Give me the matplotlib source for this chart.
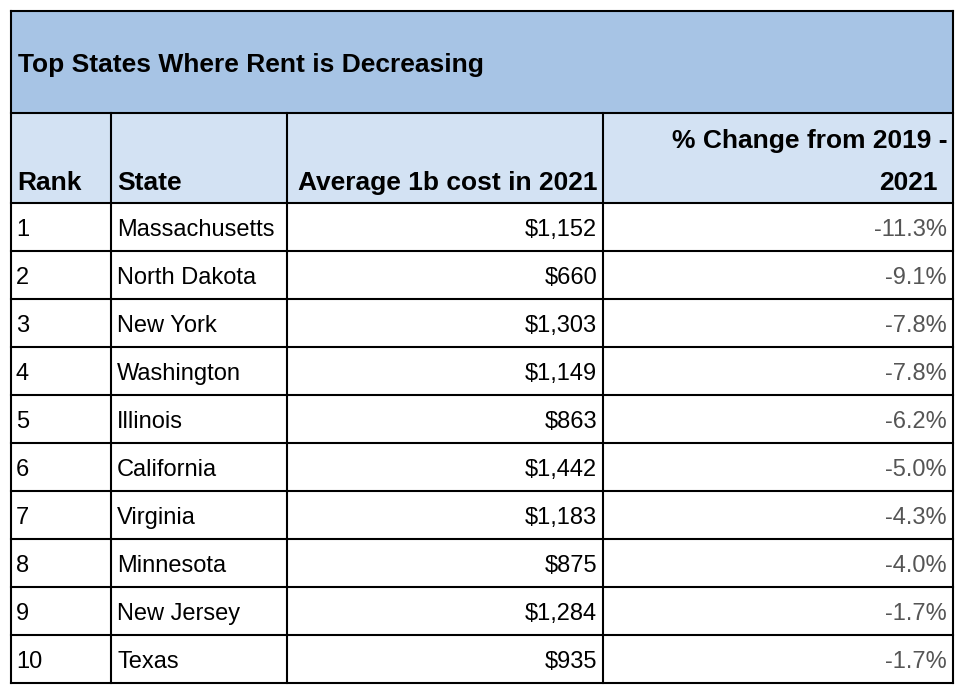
import matplotlib
matplotlib.use('Agg')
from matplotlib import pyplot as plt
from matplotlib.patches import Rectangle

plt.rcParams['font.family'] = ['Liberation Sans', 'DejaVu Sans']

title = 'Top States Where Rent is Decreasing'
headers = ['Rank', 'State', 'Average 1b cost in 2021', '% Change from 2019 -', '2021']
ranks = ['1', '2', '3', '4', '5', '6', '7', '8', '9', '10']
states = ['Massachusetts', 'North Dakota', 'New York', 'Washington', 'Illinois',
          'California', 'Virginia', 'Minnesota', 'New Jersey', 'Texas']
costs = [1152, 660, 1303, 1149, 863, 1442, 1183, 875, 1284, 935]
changes = [-11.3, -9.1, -7.8, -7.8, -6.2, -5.0, -4.3, -4.0, -1.7, -1.7]

# layout in pixels
W, H = 964, 696
col_x = [11, 111, 287, 603, 953]
top = 11
title_bot = 113
head_bot = 203
row_h = 48
bottom = head_bot + row_h * len(ranks)

fig = plt.figure(figsize=(W / 100, H / 100), dpi=100)
ax = fig.add_axes([0, 0, 1, 1])
ax.set_xlim(0, W)
ax.set_ylim(H, 0)
ax.axis('off')

title_col = '#a7c4e5'
head_col = '#d3e2f3'
lw = 1.5

ax.add_patch(Rectangle((col_x[0], top), col_x[-1] - col_x[0], title_bot - top,
                       facecolor=title_col, edgecolor='none'))
ax.add_patch(Rectangle((col_x[0], title_bot), col_x[-1] - col_x[0], head_bot - title_bot,
                       facecolor=head_col, edgecolor='none'))

# borders
ax.plot([col_x[0], col_x[-1]], [top, top], color='black', lw=lw)
ax.plot([col_x[0], col_x[-1]], [title_bot, title_bot], color='black', lw=lw)
ax.plot([col_x[0], col_x[-1]], [head_bot, head_bot], color='black', lw=lw)
for i in range(1, len(ranks) + 1):
    y = head_bot + i * row_h
    ax.plot([col_x[0], col_x[-1]], [y, y], color='black', lw=lw)
ax.plot([col_x[0], col_x[0]], [top, bottom], color='black', lw=lw)
ax.plot([col_x[-1], col_x[-1]], [top, bottom], color='black', lw=lw)
for x in col_x[1:-1]:
    ax.plot([x, x], [title_bot, bottom], color='black', lw=lw)

fs = 17
fsb = 19
ax.text(18, (top + title_bot) / 2 + 3, title, fontsize=fsb, fontweight='bold',
        ha='left', va='center', color='black')

hy = 190
ax.text(col_x[0] + 6, hy, headers[0], fontsize=fsb, fontweight='bold', ha='left', va='baseline')
ax.text(col_x[1] + 6, hy, headers[1], fontsize=fsb, fontweight='bold', ha='left', va='baseline')
ax.text(col_x[3] - 6, hy, headers[2], fontsize=fsb, fontweight='bold', ha='right', va='baseline')
ax.text(col_x[4] - 6, 148, headers[3], fontsize=fsb, fontweight='bold', ha='right', va='baseline')
ax.text(col_x[4] - 15, hy, headers[4], fontsize=fsb, fontweight='bold', ha='right', va='baseline')

for i in range(len(ranks)):
    yc = head_bot + i * row_h + row_h / 2 + 3
    ax.text(col_x[0] + 5, yc, ranks[i], fontsize=fs, ha='left', va='center', color='black')
    ax.text(col_x[1] + 6, yc, states[i], fontsize=fs, ha='left', va='center', color='black')
    ax.text(col_x[3] - 6, yc, '${:,}'.format(costs[i]), fontsize=fs, ha='right',
            va='center', color='black')
    ax.text(col_x[4] - 6, yc, '{:.1f}%'.format(changes[i]), fontsize=fs, ha='right',
            va='center', color='#555555')

fig.savefig('out.png', dpi=100, facecolor='white')
